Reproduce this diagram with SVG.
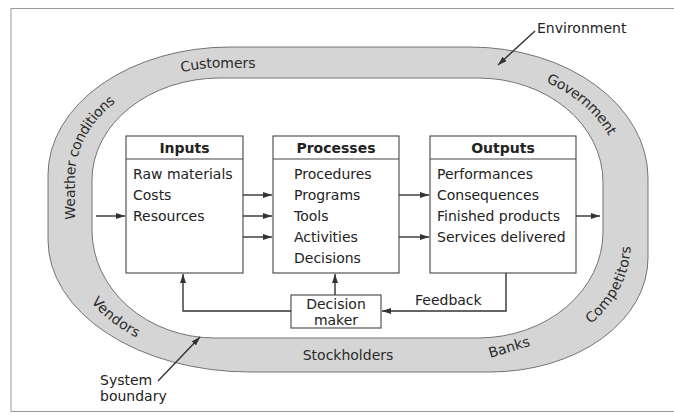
<svg xmlns="http://www.w3.org/2000/svg" width="674" height="415" viewBox="0 0 674 415">
<defs>
<style>
.t{font-family:"DejaVu Sans","Liberation Sans",sans-serif;font-size:14px;fill:#222}
.b{font-weight:bold}
.r{font-family:"DejaVu Sans","Liberation Sans",sans-serif;font-size:14px;fill:#2a2a2a}
.box{fill:#fff;stroke:#444;stroke-width:1.1}
.ln{fill:none;stroke:#333;stroke-width:1.4}
</style>
<marker id="ah" markerUnits="userSpaceOnUse" markerWidth="10" markerHeight="7" refX="9" refY="3" orient="auto">
<path d="M0,0 L9,3 L0,6 z" fill="#333"/>
</marker>
<path id="pW" d="M70,290 V177 A155 114.5 0 0 1 225 62.5 H320"/>
<path id="pG" d="M400,62.5 H474 A151.5 117.5 0 0 1 625.5 180 V270"/>
<path id="pC" d="M380,355 H484 A141.5 110 0 0 0 625.5 245 V120"/>
<path id="pV" d="M70,150 V235 A162 120 0 0 0 232 355 H300"/>
</defs>
<rect x="11" y="8.5" width="680" height="403" fill="#fff" stroke="#999" stroke-width="1"/>
<g id="ring">
<path fill="#d5d5d5" fill-rule="evenodd" stroke="#666" stroke-width="0.9" d="M230,47 H470 A178 131 0 0 1 648 178 V258 A158 114 0 0 1 490 372 H250 A202 132 0 0 1 48 240 V175 A182 128 0 0 1 230 47 Z M220,78 H478 A125 104 0 0 1 603 182 V232 A125 106 0 0 1 478 338 H215 A123 108 0 0 1 92 230 V180 A128 102 0 0 1 220 78 Z"/>
<text class="r" dominant-baseline="central"><textPath href="#pW" startOffset="138" text-anchor="middle">Weather conditions</textPath></text>
<text class="r" dominant-baseline="central"><textPath href="#pW" startOffset="281">Customers</textPath></text>
<text class="r" dominant-baseline="central"><textPath href="#pG" startOffset="150">Government</textPath></text>
<text class="r" dominant-baseline="central"><textPath href="#pC" startOffset="215">Competitors</textPath></text>
<text class="r" dominant-baseline="central"><textPath href="#pV" startOffset="183" text-anchor="middle">Vendors</textPath></text>
<text class="r" x="348" y="360" text-anchor="middle">Stockholders</text>
<text class="r" x="509" y="352" text-anchor="middle" transform="rotate(-17 509 347)">Banks</text>
</g>
<g id="inputs">
<rect class="box" x="126" y="136" width="117" height="137"/>
<line x1="126" y1="159" x2="243" y2="159" stroke="#444" stroke-width="1.1"/>
<text class="t b" x="184.5" y="153" text-anchor="middle">Inputs</text>
<text class="t" x="133" y="179">Raw materials</text>
<text class="t" x="133" y="200">Costs</text>
<text class="t" x="133" y="221">Resources</text>
</g>
<g id="processes">
<rect class="box" x="273" y="136" width="126" height="137"/>
<line x1="273" y1="159" x2="399" y2="159" stroke="#444" stroke-width="1.1"/>
<text class="t b" x="336" y="153" text-anchor="middle">Processes</text>
<text class="t" x="294" y="179">Procedures</text>
<text class="t" x="294" y="200">Programs</text>
<text class="t" x="294" y="221">Tools</text>
<text class="t" x="294" y="242">Activities</text>
<text class="t" x="294" y="263">Decisions</text>
</g>
<g id="outputs">
<rect class="box" x="430" y="136" width="146" height="137"/>
<line x1="430" y1="159" x2="576" y2="159" stroke="#444" stroke-width="1.1"/>
<text class="t b" x="503" y="153" text-anchor="middle">Outputs</text>
<text class="t" x="437" y="179">Performances</text>
<text class="t" x="437" y="200">Consequences</text>
<text class="t" x="437" y="221">Finished products</text>
<text class="t" x="437" y="242">Services delivered</text>
</g>
<g id="decision-maker">
<rect class="box" x="291" y="295" width="90" height="33"/>
<text class="t" x="336" y="309" text-anchor="middle">Decision</text>
<text class="t" x="336" y="325" text-anchor="middle">maker</text>
</g>
<g id="connectors">
<line class="ln" x1="96" y1="216" x2="125" y2="216" marker-end="url(#ah)"/>
<line class="ln" x1="243" y1="195" x2="272" y2="195" marker-end="url(#ah)"/>
<line class="ln" x1="243" y1="216" x2="272" y2="216" marker-end="url(#ah)"/>
<line class="ln" x1="243" y1="237" x2="272" y2="237" marker-end="url(#ah)"/>
<line class="ln" x1="399" y1="195" x2="429" y2="195" marker-end="url(#ah)"/>
<line class="ln" x1="399" y1="237" x2="429" y2="237" marker-end="url(#ah)"/>
<line class="ln" x1="576" y1="216" x2="600" y2="216" marker-end="url(#ah)"/>
<polyline class="ln" points="506,273 506,311 382,311" marker-end="url(#ah)"/>
<line class="ln" x1="335" y1="295" x2="335" y2="274" marker-end="url(#ah)"/>
<polyline class="ln" points="291,311 183,311 183,274" marker-end="url(#ah)"/>
<line class="ln" x1="535" y1="31" x2="498" y2="65" marker-end="url(#ah)"/>
<line class="ln" x1="158" y1="381" x2="200" y2="337" marker-end="url(#ah)"/>
<text class="t" x="415" y="305">Feedback</text>
</g>
<g id="labels">
<text class="t" x="537" y="33">Environment</text>
<text class="t" x="100" y="385">System</text>
<text class="t" x="100" y="401">boundary</text>
</g>
</svg>
